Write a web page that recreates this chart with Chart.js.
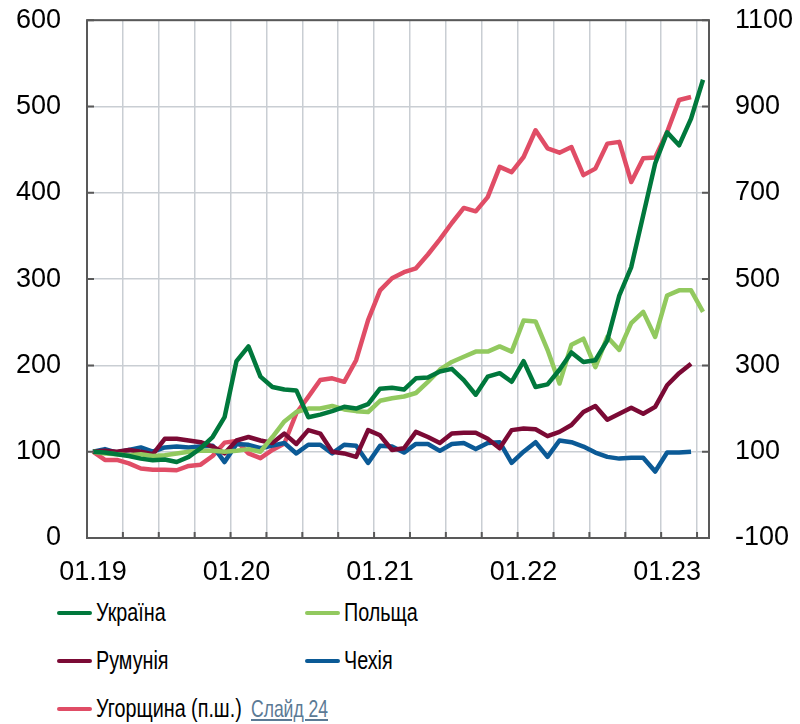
<!DOCTYPE html>
<html>
<head>
<meta charset="utf-8">
<script src="https://cdn.jsdelivr.net/npm/chart.js@4/dist/chart.umd.min.js"></script>
<style>
  body { margin: 0; background: #fff; }
  #wrap { position: relative; width: 800px; height: 724px; overflow: hidden; }
  #box { position: absolute; left: 0; top: -22px; width: 800px; height: 612px; }
  #legend { position: absolute; left: 57px; top: 597px; width: 743px;
    font-family: "Liberation Sans", Arial, sans-serif; font-size: 26px; color: #000; }
  .item { position: absolute; display: flex; align-items: center; white-space: nowrap; }
  .mark { width: 35px; height: 4px; border-radius: 2px; margin-right: 4px; flex: none; }
  .txt { display: inline-block; transform: scaleX(0.76); transform-origin: left center; }
  .slide { position: absolute; color: #5b7a95; text-decoration: underline; font-size: 24px;
    transform: scaleX(0.73); transform-origin: left center; }
</style>
</head>
<body>
<div id="wrap">
  <div id="box"><canvas id="myChart"></canvas></div>
  <div id="legend"></div>
</div>
<script>
// months 01.2019 .. 04.2023
var months = [];
for (var y = 19; y <= 23; y++) {
  for (var m = 1; m <= 12; m++) {
    if (y == 23 && m > 4) break;
    months.push((m < 10 ? '0' + m : '' + m) + '.' + y);
  }
}

var ukraine = [100, 99, 97, 95, 92, 90, 91, 88, 94, 104, 117, 140,
  205, 222, 187, 175, 172, 171, 140, 143, 147, 152, 150, 155,
  173, 174, 172, 185, 186, 193, 196, 183, 166, 187, 191, 181,
  205, 175, 178, 195, 215, 204, 206, 229, 281, 314, 374, 434,
  470, 455, 486, 531];
var poland = [100, 98, 97, 96, 97, 95, 96, 98, 100, 101, 101, 100,
  101, 103, 100, 117, 135, 146, 150, 150, 153, 149, 147, 146,
  159, 162, 164, 168, 181, 195, 204, 210, 216, 216, 222, 216,
  252, 251, 218, 179, 224, 231, 198, 233, 218, 249, 262, 233,
  281, 287, 287, 262];
var romania = [100, 101, 100, 102, 100, 97, 115, 115, 113, 111, 106, 98,
  113, 117, 113, 110, 121, 109, 125, 121, 100, 98, 94, 125,
  119, 102, 104, 123, 117, 110, 121, 122, 122, 115, 104, 125,
  127, 126, 118, 123, 131, 146, 153, 137, 144, 151, 144, 152,
  177, 191, 202];
var czechia = [100, 103, 99, 102, 105, 100, 105, 106, 105, 106, 107, 88,
  109, 108, 104, 107, 110, 98, 108, 108, 98, 108, 107, 87,
  107, 106, 99, 109, 109, 101, 109, 110, 103, 110, 111, 87,
  100, 111, 94, 113, 111, 106, 99, 94, 92, 93, 93, 77,
  99, 99, 100];
// right axis
var hungary = [100, 81, 81, 73, 61, 58, 58, 57, 67, 70, 90, 121,
  125, 96, 85, 104, 119, 189, 227, 266, 270, 262, 312, 405,
  474, 502, 516, 525, 557, 592, 630, 665, 657, 690, 760, 748,
  783, 845, 803, 793, 806, 741, 756, 814, 818, 725, 780, 782,
  841, 915, 922];

var names = ['Україна', 'Польща', 'Румунія', 'Чехія', 'Угорщина (п.ш.)'];
var colors = ['#00783c', '#92c95f', '#7b0a35', '#0b5a96', '#e04d66'];
var series = [ukraine, poland, romania, czechia, hungary];

var frame = '#595959';
var gridCol = '#c9ced3';

function ds(i) {
  return {
    label: names[i],
    data: series[i],
    borderColor: colors[i],
    backgroundColor: colors[i],
    borderWidth: 4.5,
    pointRadius: 0,
    tension: 0,
    borderJoinStyle: 'round',
    yAxisID: i == 4 ? 'y1' : 'y'
  };
}

// frame and short inward tick marks
var framePlugin = {
  id: 'frame',
  afterDraw: function (chart) {
    var c = chart.ctx, a = chart.chartArea;
    c.save();
    c.strokeStyle = frame;
    c.lineWidth = 2;
    c.beginPath();
    var x = chart.scales.x;
    for (var i = 0; i <= months.length; i += 3) {
      var px = x.getPixelForValue(i) - (x.getPixelForValue(1) - x.getPixelForValue(0)) / 2;
      c.moveTo(px, a.bottom); c.lineTo(px, a.bottom - 6);
    }
    chart.scales.y.ticks.forEach(function (t) {
      var py = chart.scales.y.getPixelForValue(t.value);
      c.moveTo(a.left, py); c.lineTo(a.left + 7, py);
    });
    chart.scales.y1.ticks.forEach(function (t) {
      var py = chart.scales.y1.getPixelForValue(t.value);
      c.moveTo(a.right, py); c.lineTo(a.right - 7, py);
    });
    c.stroke();
    c.strokeRect(a.left, a.top, a.right - a.left, a.bottom - a.top);
    c.restore();
  }
};

var tickFont = { family: '"Liberation Sans", Arial, sans-serif', size: 27 };

var ctx = document.getElementById('myChart').getContext('2d');
var chart = new Chart(ctx, {
  type: 'line',
  data: { labels: months, datasets: [ds(0), ds(1), ds(2), ds(3), ds(4)] },
  options: {
    responsive: true,
    maintainAspectRatio: false,
    animation: false,
    layout: { padding: { top: 0, left: 0, right: 0, bottom: 0 } },
    plugins: { legend: { display: false }, tooltip: { enabled: false } },
    scales: {
      x: {
        offset: true,
        grid: {
          offset: true,
          drawTicks: false,
          color: function (c) { return c.index % 3 == 0 ? gridCol : 'rgba(0,0,0,0)'; },
          lineWidth: 1.5
        },
        border: { display: false },
        ticks: {
          autoSkip: false, maxRotation: 0, padding: 18, color: '#000', font: tickFont,
          callback: function (v, i) { return months[i].substring(0, 2) == '01' ? months[i] : ''; }
        },
        afterFit: function (s) { s.height = 52; }
      },
      y: {
        position: 'left', min: 0, max: 600,
        grid: { color: gridCol, lineWidth: 1.5, drawTicks: false },
        border: { display: false },
        ticks: { stepSize: 100, padding: 26, color: '#000', font: tickFont },
        afterFit: function (s) { s.width = 87; }
      },
      y1: {
        position: 'right', min: -100, max: 1100,
        grid: { display: false, drawTicks: false },
        border: { display: false },
        ticks: {
          stepSize: 200, padding: 26, color: '#000', font: tickFont,
          callback: function (v) { return String(v); }
        },
        afterFit: function (s) { s.width = 91; }
      }
    }
  },
  plugins: [framePlugin]
});

// legend in two columns
var slots = [[0, 0], [248, 0], [0, 48], [248, 48], [0, 96]];
var lg = document.getElementById('legend');
chart.data.datasets.forEach(function (d, i) {
  var el = document.createElement('div');
  el.className = 'item';
  el.style.left = slots[i][0] + 'px';
  el.style.top = slots[i][1] + 'px';
  var html = '<span class="mark" style="background:' + d.borderColor + '"></span><span class="txt">' + d.label + '</span>';
  if (i == 4) html += '<span class="slide" style="left:194px">Слайд 24</span>';
  el.innerHTML = html;
  lg.appendChild(el);
});
</script>
</body>
</html>
